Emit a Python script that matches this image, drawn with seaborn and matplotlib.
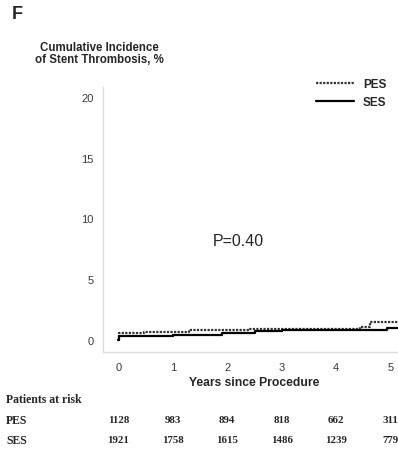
import matplotlib
matplotlib.use("Agg")
import matplotlib.pyplot as plt
import matplotlib.transforms as mtransforms
import seaborn as sns
import numpy as np
import pandas as pd

# Kaplan-Meier style step data (years, cumulative incidence %)
pes_t = [0.0, 0.02, 0.47, 1.3, 2.4, 4.44, 4.62, 5.2]
pes_y = [0.0, 0.55, 0.65, 0.78, 0.88, 1.05, 1.5, 1.5]
ses_t = [0.0, 0.02, 1.0, 1.9, 2.5, 3.0, 4.93, 5.2]
ses_y = [0.0, 0.3, 0.4, 0.55, 0.72, 0.82, 1.0, 1.0]

years = [0, 1, 2, 3, 4, 5]
risk_pes = [1128, 983, 894, 818, 662, 311]
risk_ses = [1921, 1758, 1615, 1486, 1239, 779]

sns.set_style("white")
plt.rcParams['font.family'] = ['Liberation Sans', 'DejaVu Sans']

fig = plt.figure(figsize=(3.98, 4.52), dpi=100)
ax = fig.add_axes([0.259, 0.219, 0.75, 0.586])

pes = pd.DataFrame({"t": pes_t, "y": pes_y})
ses = pd.DataFrame({"t": ses_t, "y": ses_y})
sns.lineplot(data=pes, x="t", y="y", ax=ax, color="#333333", lw=1.6,
             linestyle=(0, (1, 0.6)), drawstyle="steps-post", estimator=None,
             label="PES")
sns.lineplot(data=ses, x="t", y="y", ax=ax, color="black", lw=1.6,
             drawstyle="steps-post", estimator=None, label="SES")

ax.set_xlim(-0.28, 5.2)
ax.set_ylim(-1, 20.8)
ax.set_xticks(years)
ax.set_yticks([0, 5, 10, 15, 20])
ax.set_xlabel("")
ax.set_ylabel("")
for s in ["top", "right"]:
    ax.spines[s].set_visible(False)
for s in ["left", "bottom"]:
    ax.spines[s].set_color("#dddddd")
    ax.spines[s].set_linewidth(1.0)
ax.tick_params(axis="both", length=4, width=0.8, color="#bbbbbb",
               labelsize=8, labelcolor="#3a3a3a", pad=3)

leg = ax.legend(loc="upper right", bbox_to_anchor=(0.985, 1.075), frameon=False,
                handlelength=3.2, handletextpad=0.8, labelspacing=0.55,
                prop={"weight": "bold", "size": 8.5})

ax.text(2.2, 8.2, "P=0.40", fontsize=11.5, ha="center", va="center")

# Headings
fig.text(0.03, 0.967, "F", fontsize=13, fontweight="bold", va="center")
fig.text(0.25, 0.88, "Cumulative Incidence\nof Stent Thrombosis, %",
         fontsize=8.3, fontweight="bold", ha="center", va="center",
         linespacing=1.05)
fig.text(0.638, 1 - 383 / 452, "Years since Procedure", fontsize=8.7,
         fontweight="bold", ha="center", va="center")

# Patients at risk table
serif = ['Liberation Serif', 'DejaVu Serif']
trans = mtransforms.blended_transform_factory(ax.transData, fig.transFigure)
fig.text(0.015, 1 - 400 / 452, "Patients at risk", family=serif,
         fontsize=8.5, fontweight="bold", va="center")
for name, vals, ypix in [("PES", risk_pes, 421), ("SES", risk_ses, 441)]:
    fig.text(0.015, 1 - ypix / 452, name, family=serif, fontsize=8.5,
             fontweight="bold", va="center")
    for yr, v in zip(years, vals):
        ax.text(yr, 1 - ypix / 452, str(v), transform=trans,
                family=serif, fontsize=7.8, fontweight="bold",
                ha="center", va="center", clip_on=False)

fig.savefig("out.png", dpi=100)
